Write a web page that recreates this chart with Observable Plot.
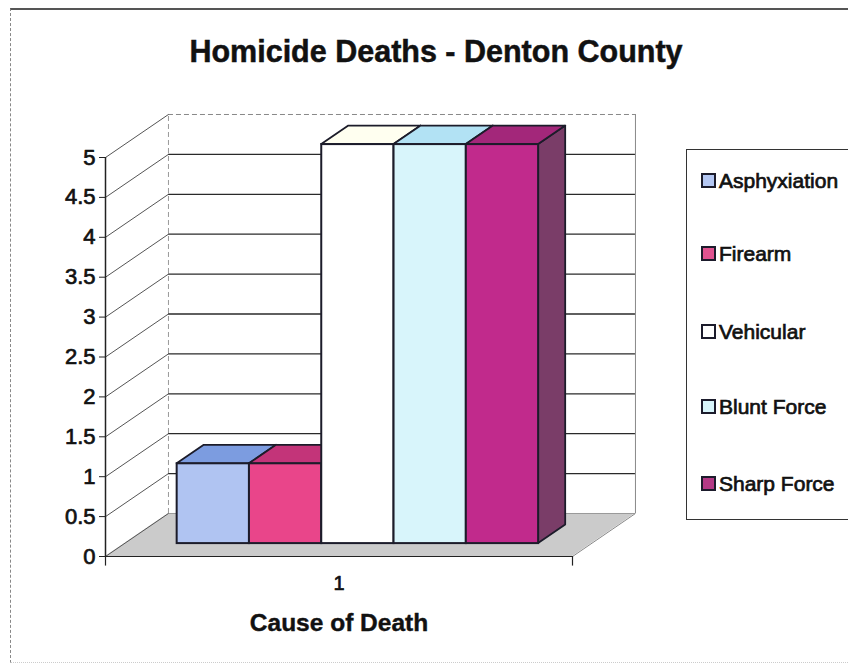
<!DOCTYPE html>
<html>
<head>
<meta charset="utf-8">
<script src="https://cdn.jsdelivr.net/npm/d3@7"></script>
<script src="https://cdn.jsdelivr.net/npm/@observablehq/plot@0.6"></script>
<style>
  html, body { margin: 0; padding: 0; background: #fff; }
  #wrap { position: relative; width: 848px; height: 671px; overflow: hidden; font-family: "Liberation Sans", Arial, sans-serif; color: #111; }
  #frame { position: absolute; left: 10px; top: 8px; width: 860px; height: 655px; border-top: 2px solid #555; border-left: 1px dashed #888; border-bottom: 1px dotted #ccc; box-sizing: border-box; }
  #title { position: absolute; left: 0; width: 872px; top: 34px; text-align: center; font-weight: bold; font-size: 30.5px; line-height: 1.117; -webkit-text-stroke: 0.5px #111; }
  #chart { position: absolute; left: 0; top: 0; }
  #legend { position: absolute; left: 686px; top: 149px; width: 180px; height: 371px; border: 1.5px solid #333; box-sizing: border-box; background: #fff; }
  .item { position: absolute; left: 14px; font-size: 21px; line-height: 1; white-space: nowrap; display: flex; align-items: center; -webkit-text-stroke: 0.7px #111; }
  .sw { display: inline-block; width: 11px; height: 11px; border: 2.5px solid #1c1c2c; margin-right: 3px; }
  svg text { paint-order: stroke; }
</style>
</head>
<body>
<div id="wrap">
  <div id="frame"></div>
  <div id="title">Homicide Deaths - Denton County</div>
  <div id="chart"></div>
  <div id="legend"></div>
</div>
<script>
// ---- data ----
const categories = ["1"];
const series = ["Asphyxiation", "Firearm", "Vehicular", "Blunt Force", "Sharp Force"];
const values = [1, 1, 5, 5, 5];
const frontColors = ["#b0c4f2", "#e9458a", "#ffffff", "#d8f5fb", "#c12a8c"];
const topColors   = ["#7c9ce0", "#c33479", "#fffff0", "#b2e2f4", "#a3277a"];
const sideColors  = ["#5f78b0", "#96285e", "#d8d8d0", "#8fbccb", "#7a3d68"];
const legendColors = ["#b4c7f3", "#e05390", "#ffffff", "#d8f5fb", "#b43a86"];
const yTicks = [0, 0.5, 1, 1.5, 2, 2.5, 3, 3.5, 4, 4.5, 5];
const xTitle = "Cause of Death";

// ---- 3D geometry (in scale units) ----
const PAD = 0.73;                       // outer padding, in bar slots
const XMAX = series.length + 2 * PAD;   // width of the floor, in bar slots
const WX = 0.871, WY = 0.539;           // depth offset of back wall
const F0 = 0.30, F1 = 0.73;             // bar front / back depth fraction
const STROKE = "#1c1c2a";

const rows = series.map((s, i) => ({
  series: s, value: values[i], slot: i,
  front: frontColors[i], top: topColors[i], side: sideColors[i]
}));

const depth = [0, 1];
const marks = [
  // floor
  Plot.areaX(depth, {y: d => d * WY, x1: d => d * WX, x2: d => XMAX + d * WX, fill: "#cbcbcb"}),
  // back wall grid
  Plot.ruleY(yTicks.filter(v => v > 0 && v < 5), {y: d => d + WY, x1: WX, x2: XMAX + WX, stroke: "#2a2a2a", strokeWidth: 1.3}),
  Plot.ruleY([5], {y: d => d + WY, x1: WX, x2: XMAX + WX, stroke: "#888", strokeDasharray: "5,3"}),
  Plot.ruleY([0], {y: d => d + WY, x1: WX, x2: XMAX + WX, stroke: "#999"}),
  Plot.ruleX([WX], {x: d => d, y1: WY, y2: 5 + WY, stroke: "#999", strokeDasharray: "5,3"}),
  Plot.ruleX([XMAX + WX], {x: d => d, y1: WY, y2: 5 + WY, stroke: "#888"}),
  // side wall diagonals
  Plot.link(yTicks, {x1: 0, y1: d => d, x2: WX, y2: d => d + WY, stroke: "#555", strokeWidth: 1}),
  Plot.link([0], {x1: XMAX, y1: 0, x2: XMAX + WX, y2: WY, stroke: "#888"}),
  // front floor edge and ticks
  Plot.ruleY([0], {x1: 0, x2: XMAX, stroke: "#222", strokeWidth: 1.2}),
  Plot.ruleX([0, XMAX], {x: d => d, y1: 0, y2: -0.12, stroke: "#222", strokeWidth: 1.2}),
  Plot.ruleX([0], {stroke: "#222", strokeWidth: 1.5}),
  // bars, painted left to right
  ...rows.flatMap(r => [
    Plot.areaY([F0, F1], {x: d => r.slot + PAD + 1 + d * WX, y1: d => d * WY, y2: d => r.value + d * WY,
      fill: r.side, stroke: STROKE, strokeWidth: 1.8, strokeLinejoin: "round"}),
    Plot.areaX([F0, F1], {y: d => r.value + d * WY, x1: d => r.slot + PAD + d * WX, x2: d => r.slot + PAD + 1 + d * WX,
      fill: r.top, stroke: STROKE, strokeWidth: 1.8, strokeLinejoin: "round"}),
    Plot.rect([r], {x1: d => d.slot + PAD + F0 * WX, x2: d => d.slot + PAD + 1 + F0 * WX,
      y1: F0 * WY, y2: d => d.value + F0 * WY, fill: r.front, stroke: STROKE, strokeWidth: 2})
  ]),
  // axes
  Plot.axisY(yTicks, {tickSize: 6, tickPadding: 4, tickFormat: d => String(d), fontSize: 22, label: null,
    stroke: "#222", textStroke: "#111", textStrokeWidth: 0.7, textStrokeOpacity: 1}),
  Plot.text(categories, {x: XMAX / 2, y: 0, dy: 27, text: d => d, fontSize: 20, fill: "#111", stroke: "#111", strokeWidth: 0.7}),
  Plot.text([xTitle], {x: XMAX / 2, y: 0, dy: 67, text: d => d, fontSize: 24.5, fontWeight: "bold", fill: "#111", stroke: "#111", strokeWidth: 0.4})
];

const chart = Plot.plot({
  width: 848, height: 671,
  marginLeft: 105, marginRight: 276, marginTop: 157, marginBottom: 115,
  x: {domain: [0, XMAX], axis: null},
  y: {domain: [0, 5], axis: null},
  style: {fontFamily: "'Liberation Sans', Arial, sans-serif", fontSize: "21px", color: "#111", background: "transparent", overflow: "visible"},
  marks
});
document.getElementById("chart").appendChild(chart);

// legend
const legend = document.getElementById("legend");
const legendY = [31, 104, 182, 257, 334];
series.forEach((s, i) => {
  const it = document.createElement("div");
  it.className = "item";
  it.style.top = (legendY[i] - 11) + "px";
  const sw = document.createElement("span");
  sw.className = "sw";
  sw.style.background = legendColors[i];
  it.appendChild(sw);
  it.appendChild(document.createTextNode(s));
  legend.appendChild(it);
});
</script>
</body>
</html>
